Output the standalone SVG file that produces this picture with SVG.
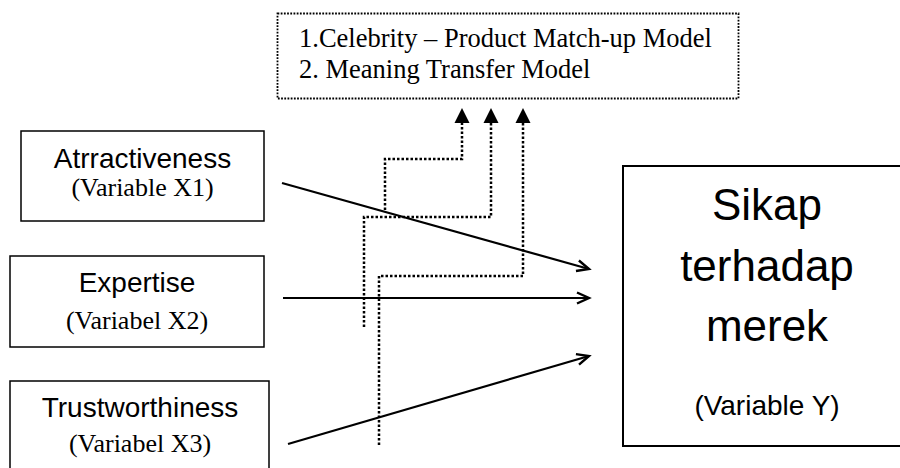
<svg xmlns="http://www.w3.org/2000/svg" width="900" height="468" viewBox="0 0 900 468">
  <style>
    .box { fill: #fff; stroke: #000; stroke-width: 1.5; }
    .sans { font-family: "Liberation Sans", Arial, sans-serif; fill: #000; }
    .serif { font-family: "Liberation Serif", "Times New Roman", serif; fill: #000; }
    .solid { fill: none; stroke: #000; stroke-width: 2.2; }
    .dot { fill: none; stroke: #000; stroke-width: 2.5; stroke-dasharray: 2.5 2; }
  </style>
  <defs>
    <marker id="open" markerWidth="16" markerHeight="14" refX="13" refY="7" orient="auto" markerUnits="userSpaceOnUse">
      <path d="M1,1.5 L13,7 L1,12.5" fill="none" stroke="#000" stroke-width="2.4"/>
    </marker>
  </defs>
  <rect width="900" height="468" fill="#fff"/>

  <!-- model box -->
  <g id="models">
    <rect x="277.5" y="13.5" width="461" height="85" fill="#fff" stroke="#000" stroke-width="1.8" stroke-dasharray="1.8 1.4"/>
    <text class="serif" x="299" y="47" font-size="26.5">1.Celebrity – Product Match-up Model</text>
    <text class="serif" x="299" y="78" font-size="26.5">2. Meaning Transfer Model</text>
  </g>

  <!-- independent variables -->
  <g id="x1">
    <rect class="box" x="21" y="131" width="243" height="90"/>
    <text class="sans" x="142.5" y="168" font-size="28" text-anchor="middle">Atrractiveness</text>
    <text class="serif" x="142.5" y="196" font-size="26" text-anchor="middle">(Variable X1)</text>
  </g>
  <g id="x2">
    <rect class="box" x="10" y="256" width="254" height="91"/>
    <text class="sans" x="137" y="292" font-size="28" text-anchor="middle">Expertise</text>
    <text class="serif" x="137" y="329" font-size="26" text-anchor="middle">(Variabel X2)</text>
  </g>
  <g id="x3">
    <rect class="box" x="10" y="381" width="259" height="100"/>
    <text class="sans" x="140" y="417" font-size="28" text-anchor="middle">Trustworthiness</text>
    <text class="serif" x="140" y="452" font-size="26" text-anchor="middle">(Variabel X3)</text>
  </g>

  <!-- dependent variable -->
  <g id="y">
    <rect x="623" y="166" width="290" height="280" fill="#fff" stroke="#000" stroke-width="2"/>
    <text class="sans" x="767" y="220" font-size="44" text-anchor="middle">Sikap</text>
    <text class="sans" x="767" y="281" font-size="44" text-anchor="middle">terhadap</text>
    <text class="sans" x="767" y="341" font-size="44" text-anchor="middle">merek</text>
    <text class="sans" x="767" y="415" font-size="28" text-anchor="middle">(Variable Y)</text>
  </g>

  <!-- connectors -->
  <g id="connectors">
    <path class="dot" d="M385,210 V159 H462 V122"/>
    <path class="dot" d="M364,327 V217 H491 V122"/>
    <path class="dot" d="M379,445 V276 H523 V122"/>
    <g fill="#000">
      <polygon points="462,108 454.5,123 469.5,123"/>
      <polygon points="491,108 483.5,123 498.5,123"/>
      <polygon points="523,108 515.5,123 530.5,123"/>
    </g>
    <line class="solid" x1="282" y1="183" x2="589" y2="269" marker-end="url(#open)"/>
    <line class="solid" x1="283" y1="298" x2="589" y2="298" marker-end="url(#open)"/>
    <line class="solid" x1="288" y1="444" x2="589" y2="356" marker-end="url(#open)"/>
  </g>
</svg>
